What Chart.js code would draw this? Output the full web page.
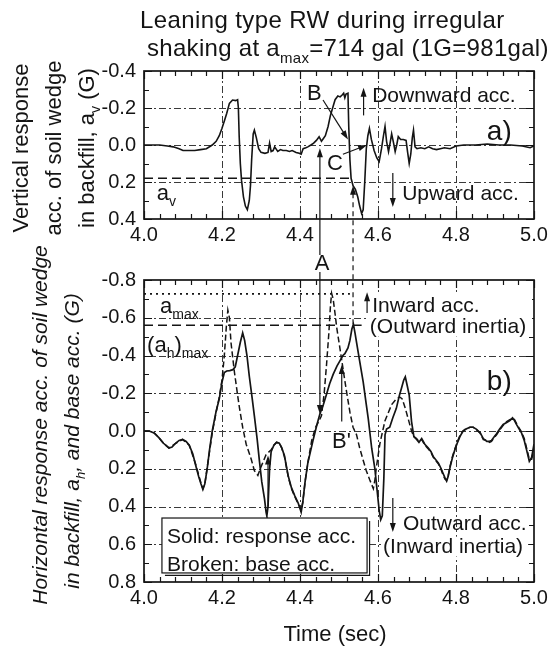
<!DOCTYPE html>
<html><head><meta charset="utf-8">
<script src="https://cdn.jsdelivr.net/npm/chart.js@4/dist/chart.umd.min.js"></script>
<style>
html,body{margin:0;padding:0;background:#fff;}
#wrap{position:relative;width:553px;height:646px;background:#fff;}
canvas{position:absolute;left:0;top:0;}
</style></head><body>
<div id="wrap"><canvas id="c1" width="553" height="646"></canvas><canvas id="c2" width="553" height="646"></canvas></div>
<script>
// ---------- data ----------
const timeTicks = [4.0, 4.2, 4.4, 4.6, 4.8, 5.0];
const avTicks = [-0.4, -0.2, 0.0, 0.2, 0.4];
const ahTicks = [-0.8, -0.6, -0.4, -0.2, 0.0, 0.2, 0.4, 0.6, 0.8];

// (a) vertical response acc. of soil wedge, a_v (G)
const avTime = [4.00,4.02,4.04,4.06,4.075,4.09,4.10,4.115,4.13,4.145,
  4.16,4.175,4.185,4.193,4.20,4.206,4.212,4.219,4.227,4.235,
  4.24,4.242,4.244,4.247,4.25,4.255,4.26,4.265,4.27,4.273,
  4.276,4.28,4.283,4.288,4.294,4.30,4.31,4.318,4.322,4.326,
  4.331,4.335,4.343,4.35,4.356,4.365,4.373,4.38,4.39,4.398,
  4.403,4.408,4.415,4.42,4.428,4.435,4.442,4.449,4.455,4.46,
  4.465,4.472,4.478,4.485,4.49,4.497,4.503,4.508,4.512,4.515,
  4.518,4.523,4.525,4.528,4.531,4.536,4.542,4.548,4.553,4.558,
  4.562,4.566,4.57,4.574,4.578,4.583,4.59,4.597,4.603,4.609,
  4.614,4.618,4.622,4.627,4.631,4.635,4.64,4.644,4.648,4.652,
  4.658,4.665,4.672,4.676,4.68,4.684,4.688,4.691,4.695,4.70,
  4.71,4.72,4.73,4.74,4.75,4.76,4.77,4.785,4.80,4.82,
  4.85,4.88,4.91,4.94,4.97,4.99,5.00];
const avValue = [0.00,0.00,0.00,0.005,0.01,0.02,0.03,0.03,0.03,0.025,
  0.02,0.00,-0.02,-0.05,-0.09,-0.13,-0.17,-0.225,-0.243,-0.24,
  -0.245,-0.20,-0.05,0.10,0.19,0.28,0.33,0.35,0.30,0.22,
  0.08,-0.06,-0.08,-0.04,0.02,0.04,0.045,0.04,-0.01,0.035,
  0.03,0.01,0.035,0.025,0.03,0.03,0.035,0.03,0.04,0.045,
  0.05,0.02,0.015,0.01,0.00,-0.01,-0.025,-0.045,-0.02,-0.035,
  -0.05,-0.10,-0.16,-0.21,-0.245,-0.265,-0.26,-0.27,-0.28,-0.255,
  -0.275,-0.28,-0.10,0.08,0.18,0.22,0.24,0.28,0.33,0.37,
  0.35,0.20,0.02,-0.05,-0.09,-0.03,0.03,0.07,0.09,0.02,
  -0.05,-0.10,-0.02,0.036,-0.01,-0.06,-0.01,0.036,0.00,-0.045,
  -0.03,-0.03,-0.025,0.04,0.10,0.05,-0.04,-0.08,0.01,0.02,
  0.015,0.02,0.01,0.02,0.025,0.02,0.015,0.02,0.005,0.00,
  0.00,-0.005,0.00,0.00,0.005,0.015,0.005];

// (b) horizontal response acc. a_h (solid)
const ahTime = [4.00,4.013,4.026,4.038,4.05,4.064,4.072,4.081,4.09,4.099,
  4.108,4.116,4.125,4.133,4.14,4.146,4.151,4.156,4.162,4.168,
  4.175,4.185,4.193,4.20,4.206,4.212,4.22,4.228,4.234,4.24,
  4.247,4.253,4.258,4.264,4.27,4.277,4.283,4.29,4.296,4.302,
  4.309,4.313,4.315,4.318,4.322,4.326,4.333,4.34,4.347,4.353,
  4.36,4.37,4.378,4.387,4.395,4.40,4.403,4.407,4.413,4.42,
  4.433,4.443,4.451,4.46,4.468,4.476,4.485,4.495,4.502,4.51,
  4.515,4.523,4.528,4.533,4.537,4.541,4.545,4.553,4.562,4.57,
  4.575,4.584,4.592,4.598,4.603,4.607,4.611,4.615,4.618,4.622,
  4.63,4.638,4.647,4.655,4.66,4.666,4.67,4.675,4.68,4.686,
  4.692,4.699,4.705,4.712,4.72,4.729,4.736,4.742,4.755,4.762,
  4.767,4.772,4.776,4.78,4.785,4.791,4.797,4.804,4.81,4.818,
  4.827,4.836,4.844,4.852,4.862,4.87,4.879,4.886,4.891,4.898,
  4.904,4.912,4.921,4.93,4.938,4.945,4.95,4.955,4.962,4.968,
  4.975,4.981,4.988,4.994,5.00];
const ahValue = [0.00,0.00,0.01,0.035,0.065,0.09,0.085,0.065,0.05,0.045,
  0.055,0.075,0.12,0.185,0.24,0.28,0.31,0.28,0.20,0.10,
  0.00,-0.105,-0.17,-0.26,-0.31,-0.318,-0.32,-0.325,-0.34,-0.40,
  -0.47,-0.52,-0.48,-0.40,-0.29,-0.18,-0.08,0.04,0.16,0.27,
  0.36,0.43,0.45,0.40,0.20,0.11,0.075,0.06,0.065,0.088,
  0.13,0.24,0.30,0.345,0.38,0.41,0.43,0.38,0.27,0.17,
  0.053,-0.03,-0.09,-0.14,-0.195,-0.25,-0.30,-0.345,-0.37,-0.40,
  -0.41,-0.44,-0.48,-0.54,-0.565,-0.52,-0.47,-0.37,-0.26,-0.14,
  -0.065,0.094,0.20,0.32,0.42,0.47,0.45,0.25,0.02,-0.01,
  -0.02,-0.07,-0.12,-0.19,-0.225,-0.27,-0.287,-0.24,-0.19,-0.05,
  0.03,0.045,0.06,0.04,0.07,0.09,0.11,0.137,0.17,0.20,
  0.225,0.25,0.265,0.24,0.19,0.14,0.10,0.06,0.03,0.00,
  -0.012,-0.02,-0.02,-0.01,0.01,0.04,0.055,0.055,0.05,0.03,
  0.015,-0.01,-0.035,-0.045,-0.055,-0.07,-0.055,-0.035,-0.01,0.01,
  0.05,0.10,0.16,0.14,0.07];

// base acc. (broken)
const baseTime = [4.00,4.013,4.026,4.038,4.05,4.064,4.081,4.099,4.116,4.133,
  4.146,4.151,4.156,4.168,4.175,4.185,4.193,4.20,4.206,4.211,
  4.215,4.219,4.223,4.228,4.232,4.24,4.245,4.253,4.262,4.275,
  4.283,4.292,4.30,4.313,4.326,4.333,4.34,4.347,4.353,4.36,
  4.37,4.378,4.387,4.395,4.40,4.403,4.407,4.413,4.42,4.43,
  4.44,4.448,4.455,4.462,4.468,4.474,4.478,4.481,4.485,4.49,
  4.494,4.503,4.511,4.52,4.528,4.536,4.545,4.553,4.562,4.57,
  4.579,4.588,4.592,4.596,4.605,4.612,4.618,4.625,4.635,4.647,
  4.656,4.662,4.67,4.678,4.686,4.692,4.699,4.705,4.712,4.72,
  4.729,4.736,4.742,4.755,4.762,4.767,4.772,4.776,4.78,4.785,
  4.791,4.797,4.804,4.81,4.818,4.827,4.836,4.844,4.852,4.862,
  4.87,4.879,4.886,4.891,4.898,4.904,4.912,4.921,4.93,4.938,
  4.945,4.95,4.955,4.962,4.968,4.975,4.981,4.988,4.994,5.00];
const baseValue = [0.00,0.00,0.01,0.035,0.065,0.09,0.065,0.045,0.075,0.18,
  0.275,0.305,0.28,0.11,0.01,-0.10,-0.18,-0.27,-0.40,-0.55,
  -0.64,-0.60,-0.47,-0.38,-0.31,-0.19,-0.12,-0.02,0.07,0.15,
  0.21,0.235,0.19,0.125,0.10,0.075,0.06,0.065,0.09,0.135,
  0.245,0.305,0.35,0.385,0.405,0.42,0.38,0.27,0.17,0.05,
  -0.02,-0.05,-0.08,-0.20,-0.35,-0.52,-0.66,-0.73,-0.70,-0.62,
  -0.55,-0.43,-0.32,-0.20,-0.10,-0.02,0.02,0.09,0.155,0.21,
  0.26,0.305,0.26,0.19,0.065,0.00,-0.055,-0.09,-0.14,-0.17,
  -0.18,-0.17,-0.12,-0.06,0.00,0.03,0.04,0.055,0.045,0.075,
  0.095,0.115,0.14,0.175,0.205,0.235,0.255,0.26,0.235,0.185,
  0.135,0.095,0.055,0.025,0.00,-0.015,-0.02,-0.02,-0.008,0.012,
  0.045,0.05,0.06,0.055,0.035,0.02,-0.005,-0.03,-0.05,-0.06,
  -0.065,-0.06,-0.04,-0.015,0.005,0.04,0.09,0.15,0.15,0.09];

// reference levels
const avLevel = 0.18;      // a_v (dashed, panel a)
const aMaxLevel = -0.727;  // a_max (dotted, panel b)
const ahMaxLevel = -0.56;  // (a_h)max (dashed, panel b)
const minorTimeStep = 0.04;
const minorAccStep = 0.1;

// ---------- helpers ----------
const FONT = '"Liberation Sans", Arial, Helvetica, sans-serif';
const INK = '#141414';
function fnt(size, style){ return (style ? style + ' ' : '') + size + 'px ' + FONT; }
function P(chart, t, v){ return [chart.scales.x.getPixelForValue(t), chart.scales.y.getPixelForValue(v)]; }
function richWidth(ctx, parts, size, style){
  let w = 0;
  for (const [t, sub] of parts){ ctx.font = fnt(sub ? Math.round(size*0.62) : size, style); w += ctx.measureText(t).width; }
  return w;
}
function drawRich(ctx, parts, x, y, size, o){
  o = o || {};
  ctx.save();
  ctx.fillStyle = INK;
  ctx.textBaseline = 'alphabetic'; ctx.textAlign = 'left';
  try { ctx.letterSpacing = (o.spacing || 0) + 'px'; } catch(e){}
  const w = richWidth(ctx, parts, size, o.style);
  let cx = o.align === 'center' ? x - w/2 : x;
  for (const [t, sub] of parts){
    ctx.font = fnt(sub ? Math.round(size*0.62) : size, o.style);
    ctx.fillText(t, cx, sub ? y + size*0.28 : y);
    cx += ctx.measureText(t).width;
  }
  ctx.restore();
}
function textAt(chart, t, v, parts, size, o){
  const [x, y] = P(chart, t, v);
  drawRich(chart.ctx, typeof parts === 'string' ? [[parts, 0]] : parts, x, y, size, o);
}
function arrow(ctx, x1, y1, x2, y2, head, dash, w){
  ctx.save();
  ctx.strokeStyle = INK; ctx.fillStyle = INK; ctx.lineWidth = w || 1.2;
  const ang = Math.atan2(y2 - y1, x2 - x1), L = 9, W = 3;
  const c = Math.cos(ang), s = Math.sin(ang);
  if (dash) ctx.setLineDash(dash);
  ctx.beginPath(); ctx.moveTo(x1, y1);
  ctx.lineTo(head ? x2 - c*L*0.7 : x2, head ? y2 - s*L*0.7 : y2); ctx.stroke();
  if (head){
    ctx.setLineDash([]);
    ctx.beginPath(); ctx.moveTo(x2, y2);
    ctx.lineTo(x2 - L*c + W*s, y2 - L*s - W*c);
    ctx.lineTo(x2 - L*c - W*s, y2 - L*s + W*c);
    ctx.closePath(); ctx.fill();
  }
  ctx.restore();
}
function hline(chart, v, t1, t2, dash, w){
  const ctx = chart.ctx; const [x1, y] = P(chart, t1, v); const [x2] = P(chart, t2, v);
  ctx.save(); ctx.strokeStyle = INK; ctx.lineWidth = w; ctx.setLineDash(dash);
  ctx.beginPath(); ctx.moveTo(x1, y); ctx.lineTo(x2, y); ctx.stroke(); ctx.restore();
}
function whiteBox(chart, t1, v1, t2, v2){
  const [x1, y1] = P(chart, t1, v1), [x2, y2] = P(chart, t2, v2);
  chart.ctx.save(); chart.ctx.fillStyle = '#fff';
  chart.ctx.fillRect(Math.min(x1,x2), Math.min(y1,y2), Math.abs(x2-x1), Math.abs(y2-y1));
  chart.ctx.restore();
}

function drawGrid(chart){
  const {ctx, chartArea: a, scales: {x, y}} = chart;
  ctx.save(); ctx.strokeStyle = '#3a3a3a'; ctx.lineWidth = 1; ctx.setLineDash([7, 3, 2, 3]);
  ctx.beginPath();
  timeTicks.slice(1, -1).forEach(t => { const px = Math.round(x.getPixelForValue(t)) + 0.5; ctx.moveTo(px, a.top); ctx.lineTo(px, a.bottom); });
  y.ticks.map(tk => tk.value).slice(1, -1).forEach(v => { const py = Math.round(y.getPixelForValue(v)) + 0.5; ctx.moveTo(a.left, py); ctx.lineTo(a.right, py); });
  ctx.stroke(); ctx.restore();
}
function drawFrame(chart){
  const {ctx, chartArea: a, scales: {x, y}} = chart;
  ctx.save(); ctx.strokeStyle = INK; ctx.lineWidth = 1.2; ctx.beginPath();
  const nx = Math.round((x.max - x.min) / minorTimeStep);
  for (let i = 0; i <= nx; i++){
    const px = Math.round(x.getPixelForValue(x.min + i*minorTimeStep)) + 0.5, L = i % 5 === 0 ? 8 : 5;
    ctx.moveTo(px, a.bottom); ctx.lineTo(px, a.bottom - L); ctx.moveTo(px, a.top); ctx.lineTo(px, a.top + L);
  }
  const ny = Math.round((y.max - y.min) / minorAccStep);
  for (let i = 0; i <= ny; i++){
    const py = Math.round(y.getPixelForValue(y.min + i*minorAccStep)) + 0.5, L = i % 2 === 0 ? 8 : 5;
    ctx.moveTo(a.left, py); ctx.lineTo(a.left + L, py); ctx.moveTo(a.right, py); ctx.lineTo(a.right - L, py);
  }
  ctx.stroke();
  ctx.lineWidth = 1.7; ctx.strokeRect(a.left, a.top, a.right - a.left, a.bottom - a.top);
  ctx.restore();
}

let chart1 = null, chart2 = null;
const deco = {
  c1(chart){
    const ctx = chart.ctx, a = chart.chartArea;
    // title
    drawRich(ctx, [['Leaning type RW during irregular', 0]], 140, 28, 24, {spacing: 0.4});
    drawRich(ctx, [['shaking at a', 0], ['max', 1], ['=714 gal (1G=981gal)', 0]], 147, 56, 24, {spacing: 0.3});
    // y-axis title
    ctx.save(); ctx.translate(0, (a.top + a.bottom) / 2 + 3); ctx.rotate(-Math.PI / 2);
    drawRich(ctx, [['Vertical response', 0]], 0, 28, 22, {align: 'center'});
    drawRich(ctx, [['acc. of soil wedge', 0]], 0, 61, 22, {align: 'center'});
    drawRich(ctx, [['in backfill, a', 0], ['v', 1], [' (G)', 0]], 0, 94, 22, {align: 'center'});
    ctx.restore();
    // a_v level
    hline(chart, avLevel, 4.0, 4.536, [9, 5], 1.5);
    textAt(chart, 4.033, 0.297, [['a', 0], ['v', 1]], 22);
    // B and C
    textAt(chart, 4.418, -0.243, 'B', 22);
    arrow(ctx, ...P(chart, 4.459, -0.243), ...P(chart, 4.523, -0.03), true);
    textAt(chart, 4.469, 0.135, 'C', 22);
    arrow(ctx, ...P(chart, 4.51, 0.05), ...P(chart, 4.572, 0.0), true);
    // direction notes
    arrow(ctx, ...P(chart, 4.563, -0.16), ...P(chart, 4.563, -0.31), true);
    textAt(chart, 4.585, -0.232, 'Downward acc.', 21);
    arrow(ctx, ...P(chart, 4.638, 0.151), ...P(chart, 4.638, 0.335), true);
    textAt(chart, 4.662, 0.297, 'Upward acc.', 21);
    textAt(chart, 4.879, -0.027, 'a)', 28);
  },
  c2(chart){
    const ctx = chart.ctx, a = chart.chartArea;
    // y-axis title (italic)
    ctx.save(); ctx.translate(0, (a.top + a.bottom) / 2); ctx.rotate(-Math.PI / 2);
    drawRich(ctx, [['Horizontal response acc. of soil wedge', 0]], 6, 47, 21, {align: 'center', style: 'italic'});
    drawRich(ctx, [['in backfill, a', 0], ['h', 1], [', and base acc. (G)', 0]], -10, 79, 21, {align: 'center', style: 'italic'});
    ctx.restore();
    // x-axis title
    drawRich(ctx, [['Time (sec)', 0]], (a.left + a.right) / 2 - 4, 641, 22, {align: 'center'});
    // reference levels
    hline(chart, aMaxLevel, 4.0, 4.528, [2, 4], 1.8);
    hline(chart, ahMaxLevel, 4.0, 4.558, [9, 5], 1.5);
    textAt(chart, 4.041, -0.625, [['a', 0], ['max', 1]], 22);
    textAt(chart, 4.008, -0.419, [['(a', 0], ['h', 1], [')', 0], ['max', 1]], 22);
    // inward note
    whiteBox(chart, 4.577, -0.735, 4.995, -0.50);
    arrow(ctx, ...P(chart, 4.572, -0.625), ...P(chart, 4.572, -0.735), true);
    textAt(chart, 4.585, -0.631, 'Inward acc.', 21);
    textAt(chart, 4.579, -0.519, '(Outward inertia)', 21);
    textAt(chart, 4.879, -0.217, 'b)', 28);
    // A arrows (across both panels)
    if (chart1){
      const [ax, ay] = P(chart, 4.438, -0.853);
      drawRich(ctx, [['A', 0]], ax, ay, 22);
      const lx = P(chart, 4.451, 0)[0];
      arrow(ctx, lx, ay - 15, lx, chart1.scales.y.getPixelForValue(0.018), true);
      arrow(ctx, lx, ay + 2, lx, chart.scales.y.getPixelForValue(-0.09), true);
      // broken vertical link at t = 4.536
      const dx = P(chart, 4.536, 0)[0];
      arrow(ctx, dx, chart.scales.y.getPixelForValue(-0.565), dx, chart1.scales.y.getPixelForValue(0.22), true, [5, 4], 1.2);
    }
    // B'
    textAt(chart, 4.482, 0.09, "B'", 22);
    arrow(ctx, ...P(chart, 4.507, -0.05), ...P(chart, 4.507, -0.35), true);
    arrow(ctx, ...P(chart, 4.318, 0.40), ...P(chart, 4.318, 0.13), true);
    // outward note
    arrow(ctx, ...P(chart, 4.638, 0.355), ...P(chart, 4.638, 0.535), true);
    textAt(chart, 4.664, 0.525, 'Outward acc.', 21);
    whiteBox(chart, 4.61, 0.56, 4.985, 0.665);
    textAt(chart, 4.613, 0.646, '(Inward inertia)', 21);
    // legend box
    const [bx1, by1] = P(chart, 4.046, 0.461), [bx2, by2] = P(chart, 4.572, 0.752);
    ctx.save(); ctx.fillStyle = '#fff'; ctx.fillRect(bx1, by1, bx2 - bx1, by2 - by1);
    ctx.strokeStyle = INK; ctx.lineWidth = 1.2; ctx.strokeRect(bx1, by1, bx2 - bx1, by2 - by1);
    ctx.beginPath(); ctx.moveTo(bx1 + 3, by2 + 2.5); ctx.lineTo(bx2 + 2.5, by2 + 2.5); ctx.lineTo(bx2 + 2.5, by1 + 3); ctx.stroke();
    ctx.restore();
    textAt(chart, 4.059, 0.593, 'Solid: response acc.', 21);
    textAt(chart, 4.059, 0.742, 'Broken: base acc.', 21);
  }
};

const framePlugin = {
  id: 'frameDeco',
  beforeDatasetsDraw(chart){ drawGrid(chart); },
  afterDatasetsDraw(chart){ drawFrame(chart); deco[chart.canvas.id](chart); }
};

function fmt(v){ return (Math.abs(v) < 1e-9 ? 0 : v).toFixed(1); }
function makeChart(id, yTicks, datasets, padTop, padBottom){
  return new Chart(document.getElementById(id), {
    type: 'line',
    data: {datasets},
    options: {
      responsive: false, animation: false, events: [],
      layout: {padding: {left: 84, right: 19, top: padTop, bottom: padBottom}},
      plugins: {legend: {display: false}, tooltip: {enabled: false}, title: {display: false}},
      elements: {point: {radius: 0}, line: {tension: 0}},
      scales: {
        x: {type: 'linear', min: timeTicks[0], max: timeTicks[timeTicks.length - 1],
          afterBuildTicks: s => { s.ticks = timeTicks.map(v => ({value: v})); },
          afterFit: s => { s.height = 30; },
          ticks: {font: {family: FONT, size: 20}, color: INK, padding: 4, maxRotation: 0, autoSkip: false, callback: v => fmt(v)},
          grid: {display: false, drawTicks: false}, border: {display: false}},
        y: {type: 'linear', reverse: true, min: yTicks[0], max: yTicks[yTicks.length - 1],
          afterBuildTicks: s => { s.ticks = yTicks.map(v => ({value: v})); },
          afterFit: s => { s.width = 60; },
          ticks: {font: {family: FONT, size: 20}, color: INK, padding: 8, autoSkip: false, callback: v => fmt(v)},
          grid: {display: false, drawTicks: false}, border: {display: false}}
      }
    },
    plugins: [framePlugin]
  });
}

chart1 = makeChart('c1', avTicks, [{
  data: avTime.map((t, i) => ({x: t, y: avValue[i]})),
  borderColor: INK, borderWidth: 1.6, fill: false
}], 71, 646 - 219 - 30);

chart2 = makeChart('c2', ahTicks, [{
  data: ahTime.map((t, i) => ({x: t, y: ahValue[i]})),
  borderColor: INK, borderWidth: 1.7, fill: false
}, {
  data: baseTime.map((t, i) => ({x: t, y: baseValue[i]})),
  borderColor: INK, borderWidth: 1.5, borderDash: [6, 3], fill: false
}], 280, 646 - 582 - 30);
</script>
</body></html>
